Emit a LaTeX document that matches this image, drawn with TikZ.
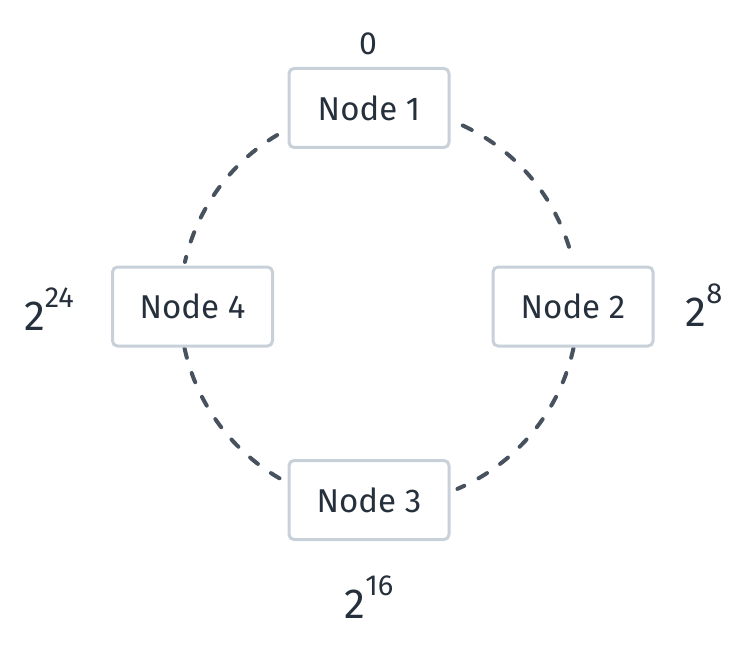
\documentclass[tikz,border=0pt]{standalone}
\usepackage{fontspec}
\setmainfont{Fira Sans}
\usetikzlibrary{calc}
\definecolor{ink}{HTML}{26303C}
\definecolor{boxline}{HTML}{C8D1DA}
\definecolor{ringline}{HTML}{47525E}
\newcommand{\hashpow}[2]{#1\raisebox{0.55em}{\fontsize{29}{31}\selectfont #2}}
\tikzset{
  ringnode/.style={draw=boxline, line width=3pt, rounded corners=5pt, fill=white,
    minimum width=160pt, minimum height=79pt, inner sep=0pt, text=ink,
    font=\fontsize{33}{37}\selectfont},
  ringarc/.style={draw=ringline, line width=4pt, dash pattern=on 10pt off 16pt, line cap=round},
  hashlabel/.style={text=ink, inner sep=0pt, font=\fontsize{42}{46}\selectfont},
  zerolabel/.style={text=ink, inner sep=0pt, font=\fontsize{32}{36}\selectfont},
}
\begin{document}
\begin{tikzpicture}[x=1pt, y=-1pt]
  \useasboundingbox (0,0) rectangle (746,652);
  % centre of the hash ring
  \coordinate (ctr) at (379,306);

  % dashed ring segments between neighbouring nodes
  \draw[ringarc] ($(ctr)+(-120.8:199)$) arc[start angle=-120.8, end angle=-167.2, radius=199];
  \draw[ringarc] ($(ctr)+(-65.1:199)$) arc[start angle=-65.1, end angle=-12.8, radius=199];
  \draw[ringarc] ($(ctr)+(12.2:199)$) arc[start angle=12.2, end angle=66.8, radius=199];
  \draw[ringarc] ($(ctr)+(167.8:199)$) arc[start angle=167.8, end angle=118.6, radius=199];

  % nodes on the ring
  \node[ringnode] (n1) at (369,108) {Node 1};
  \node[ringnode] (n2) at (573,306.5) {Node 2};
  \node[ringnode] (n3) at (369,500) {Node 3};
  \node[ringnode] (n4) at (192.5,306.5) {Node 4};

  % ring positions
  \node[zerolabel] (p1) at (368,44) {0};
  \node[hashlabel] (p2) at (704,305) {\hashpow{2}{8}};
  \node[hashlabel] (p3) at (369,597) {\hashpow{2}{16}};
  \node[hashlabel] (p4) at (49,309) {\hashpow{2}{24}};
\end{tikzpicture}
\end{document}
